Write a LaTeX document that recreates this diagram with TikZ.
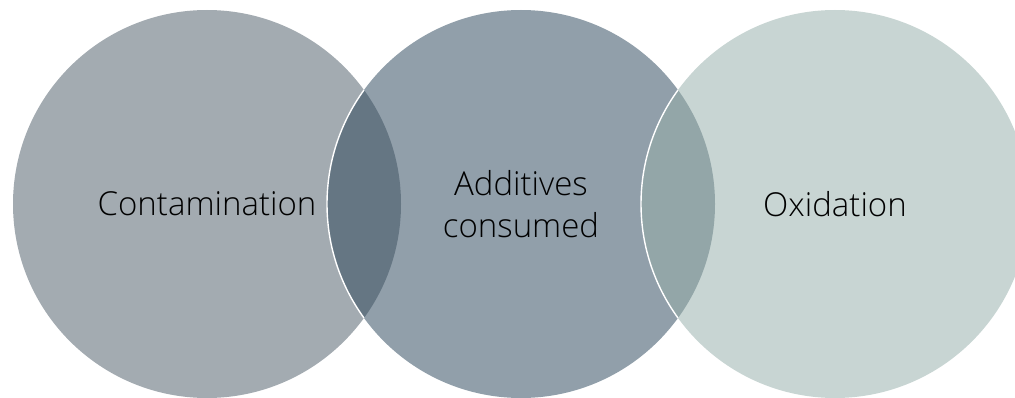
\documentclass[tikz,border=0pt]{standalone}
\usepackage{fontspec}
\setmainfont{Open Sans}[UprightFont=* Light]
\usetikzlibrary{positioning}

\definecolor{contfill}{HTML}{A3ABB1}
\definecolor{addifill}{HTML}{919FAA}
\definecolor{oxidfill}{HTML}{C8D5D3}
\definecolor{leftlap}{HTML}{657683}
\definecolor{rightlap}{HTML}{93A6A8}

\begin{document}
\begin{tikzpicture}[x=1pt, y=-1pt,
  ring/.style={circle, minimum size=388pt, inner sep=0pt, align=center,
    font=\fontsize{33}{42}\selectfont, text=black}]
\useasboundingbox (0,0) rectangle (1015,398);
\clip (0,0) rectangle (1015,398);

\node[ring, fill=contfill] (cont) at (207,204) {Contamination};
\node[ring, fill=addifill] (addi) at (521,204) {};
\node[ring, fill=oxidfill] (oxid) at (835,204) {};

% overlaps
\begin{scope}
\clip (cont.center) circle (194);
\fill[leftlap] (addi.center) circle (194);
\draw[white, line width=1.4pt] (addi.center) circle (194);
\end{scope}
\begin{scope}
\clip (addi.center) circle (194);
\fill[rightlap] (oxid.center) circle (194);
\draw[white, line width=1.4pt] (oxid.center) circle (194);
\end{scope}

\node[ring] (addilabel) at (addi.center) {Additives\\consumed};
\node[ring] (oxidlabel) at (oxid.center) {Oxidation};
\end{tikzpicture}
\end{document}
